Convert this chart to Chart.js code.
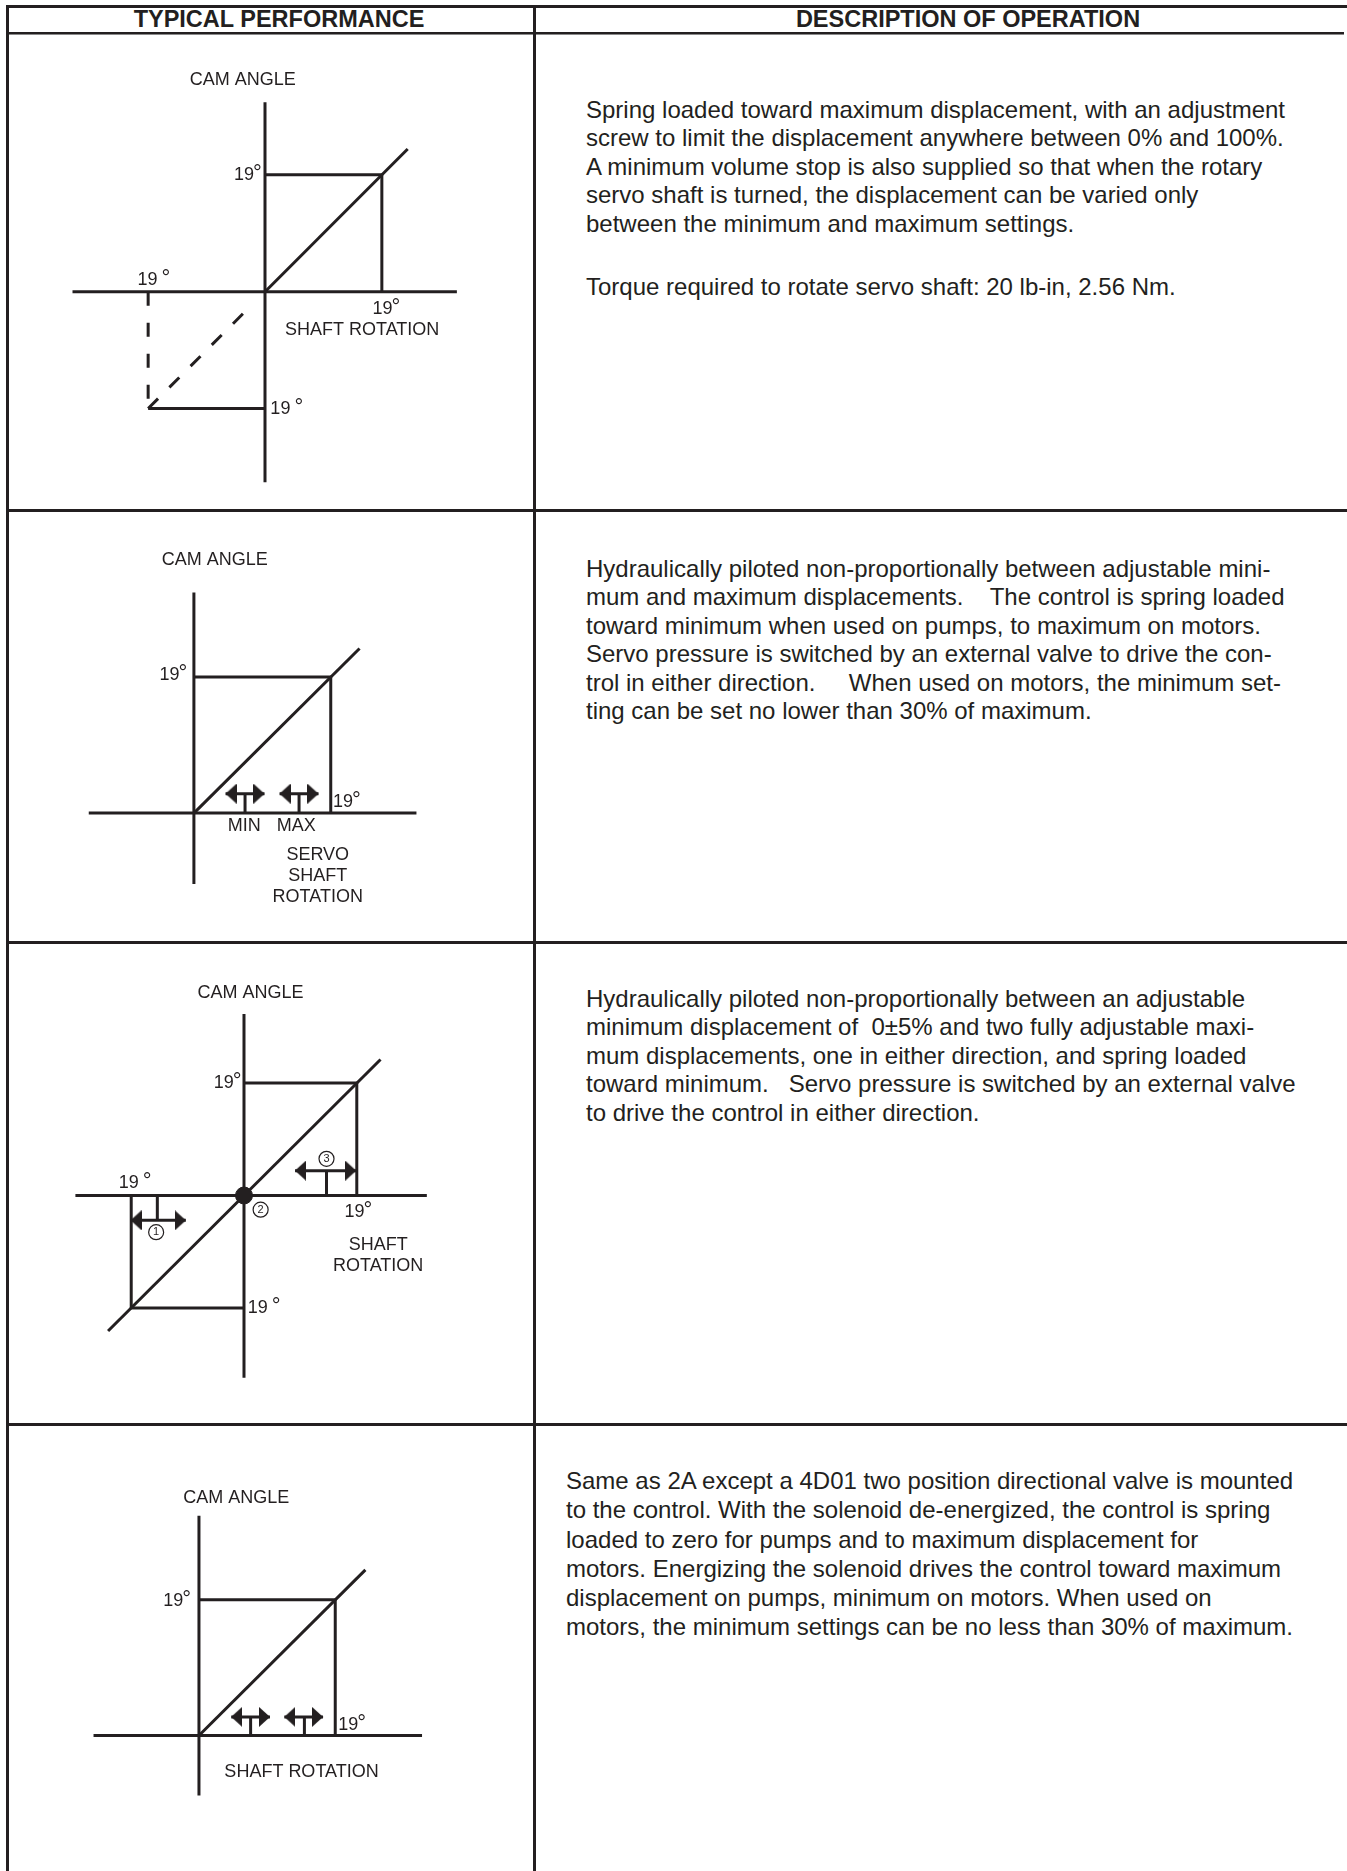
<!DOCTYPE html>
<html>
<head>
<meta charset="utf-8">
<title>Typical performance / description of operation</title>
<script src="https://cdn.jsdelivr.net/npm/chart.js@4.4.1/dist/chart.umd.min.js"></script>
<style>
  html, body { margin: 0; padding: 0; background: #fff; }
  body {
    position: relative; width: 1347px; height: 1871px; overflow: hidden;
    font-family: "Liberation Sans", Arial, Helvetica, sans-serif; color: #231f20;
  }
  .rule { position: absolute; background: #231f20; }
  .head { position: absolute; top: 5px; width: 420px; text-align: center; font-weight: bold;
          font-size: 23.5px; line-height: 28px; white-space: nowrap; }
  .desc { position: absolute; font-size: 24px; line-height: 28.4px; white-space: pre; }
  canvas { position: absolute; }
</style>
</head>
<body>
<!-- table frame -->
<div class="rule" style="left:6px;top:5px;width:1341px;height:3px"></div>
<div class="rule" style="left:6px;top:32px;width:1338px;height:2px"></div>
<div class="rule" style="left:6px;top:34px;width:1338px;height:1px;background:#8a8a8a"></div>
<div class="rule" style="left:6px;top:509px;width:1341px;height:3px"></div>
<div class="rule" style="left:6px;top:941px;width:1341px;height:3px"></div>
<div class="rule" style="left:6px;top:1423px;width:1341px;height:3px"></div>
<div class="rule" style="left:6px;top:5px;width:3px;height:1866px"></div>
<div class="rule" style="left:533px;top:5px;width:3px;height:1866px"></div>

<div class="head" style="left:69px">TYPICAL PERFORMANCE</div>
<div class="head" style="left:758px">DESCRIPTION OF OPERATION</div>

<div class="desc" style="left:586px;top:96px">Spring loaded toward maximum displacement, with an adjustment
screw to limit the displacement anywhere between 0% and 100%.
A minimum volume stop is also supplied so that when the rotary
servo shaft is turned, the displacement can be varied only
between the minimum and maximum settings.</div>
<div class="desc" style="left:586px;top:273px">Torque required to rotate servo shaft: 20 lb-in, 2.56 Nm.</div>

<div class="desc" style="left:586px;top:555px">Hydraulically piloted non-proportionally between adjustable mini-
mum and maximum displacements.    The control is spring loaded
toward minimum when used on pumps, to maximum on motors.
Servo pressure is switched by an external valve to drive the con-
trol in either direction.     When used on motors, the minimum set-
ting can be set no lower than 30% of maximum.</div>

<div class="desc" style="left:586px;top:985px">Hydraulically piloted non-proportionally between an adjustable
minimum displacement of  0±5% and two fully adjustable maxi-
mum displacements, one in either direction, and spring loaded
toward minimum.   Servo pressure is switched by an external valve
to drive the control in either direction.</div>

<div class="desc" style="left:566px;top:1466px;line-height:29.3px">Same as 2A except a 4D01 two position directional valve is mounted
to the control. With the solenoid de-energized, the control is spring
loaded to zero for pumps and to maximum displacement for
motors. Energizing the solenoid drives the control toward maximum
displacement on pumps, minimum on motors. When used on
motors, the minimum settings can be no less than 30% of maximum.</div>

<canvas id="perf1"></canvas>
<canvas id="perf2"></canvas>
<canvas id="perf3"></canvas>
<canvas id="perf4"></canvas>

<script>
const INK = "#231f20";
const FONT = '"Liberation Sans", Arial, Helvetica, sans-serif';

// all values in degrees: shaft rotation (x) vs cam angle (y)

// 1 - rotary servo, spring loaded to max, adjustable stops
const d1ShaftAxis = [[-31.3, 0], [31.2, 0]];
const d1CamAxis = [[0, 30.8], [0, -31]];
const d1Limit = [[0, 19], [19, 19], [19, 0]];
const d1Curve = [[0, 0], [23.2, 23.2]];
const d1NegLimit = [[-19, -19], [0, -19]];
const d1NegSide = [[-19, 0], [-19, -19]];
const d1NegCurve = [[-19, -19], [-1.8, -1.8]];

// 2 - hydraulic, two position, MIN / MAX adjusters
const d2ShaftAxis = [[-14.6, 0], [30.9, 0]];
const d2CamAxis = [[0, 30.8], [0, -9.9]];
const d2Limit = [[0, 19], [19, 19], [19, 0]];
const d2Curve = [[0, 0], [23, 23]];
const d2Stops = [
  { x0: 4.4, x1: 9.8, stem: 7.1, y: 2.7 },
  { x0: 11.9, x1: 17.3, stem: 14.6, y: 2.7 },
];

// 3 - hydraulic, three position, over center
const d3ShaftAxis = [[-28.4, 0], [30.8, 0]];
const d3CamAxis = [[0, 30.7], [0, -30.8]];
const d3Limit = [[0, 19], [19, 19], [19, 0]];
const d3NegLimit = [[0, -19], [-19, -19], [-19, 0]];
const d3Curve = [[-22.9, -22.9], [23, 23]];
const d3Stops = [
  { x0: -19.1, x1: -9.8, stem: -14.6, y: -4.2 },
  { x0: 8.6, x1: 18.9, stem: 13.9, y: 4.2 },
];
const d3Marks = [[-14.8, -6.2, "1"], [2.8, -2.4, "2"], [13.9, 6.2, "3"]];

// 4 - solenoid two position (same as 2A)
const d4ShaftAxis = [[-14.7, 0], [31.1, 0]];
const d4CamAxis = [[0, 30.8], [0, -8.4]];
const d4Limit = [[0, 19], [19, 19], [19, 0]];
const d4Curve = [[0, 0], [23.2, 23.2]];
const d4Stops = [
  { x0: 4.5, x1: 9.9, stem: 7.2, y: 2.6 },
  { x0: 11.9, x1: 17.3, stem: 14.7, y: 2.6 },
];

// text set on the diagrams
const d1Text = [
  { text: "CAM ANGLE", x: -3.6, y: 34.4 },
  { text: "19", x: -3.4, y: 19, deg: 1 },
  { text: "19", x: -19.1, y: 1.9, deg: 2 },
  { text: "19", x: 19.1, y: -2.8, deg: 1 },
  { text: "SHAFT ROTATION", x: 15.8, y: -6.2 },
  { text: "19", x: 2.5, y: -19, deg: 2 },
];
const d2Text = [
  { text: "CAM ANGLE", x: 2.9, y: 35.4 },
  { text: "19", x: -3.4, y: 19.3, deg: 1 },
  { text: "19", x: 20.7, y: 1.6, deg: 1 },
  { text: "MIN", x: 7.0, y: -1.8 },
  { text: "MAX", x: 14.2, y: -1.8 },
  { text: "SERVO", x: 17.2, y: -5.8 },
  { text: "SHAFT", x: 17.2, y: -8.8 },
  { text: "ROTATION", x: 17.2, y: -11.8 },
];
const d3Text = [
  { text: "CAM ANGLE", x: 1.1, y: 34.3 },
  { text: "19", x: -3.4, y: 19, deg: 1 },
  { text: "19", x: -19.4, y: 2.1, deg: 2 },
  { text: "19", x: 18.6, y: -2.8, deg: 1 },
  { text: "19", x: 2.3, y: -19, deg: 2 },
  { text: "SHAFT", x: 22.6, y: -8.4 },
  { text: "ROTATION", x: 22.6, y: -12.0 },
];
const d4Text = [
  { text: "CAM ANGLE", x: 5.2, y: 33.3 },
  { text: "19", x: -3.6, y: 18.9, deg: 1 },
  { text: "19", x: 20.8, y: 1.4, deg: 1 },
  { text: "SHAFT ROTATION", x: 14.3, y: -5.1 },
];

// where each diagram sits on the page: canvas box, origin pixel, px per degree
const frames = {
  perf1: { left: 9, top: 36, width: 523, height: 472, ox: 265, oy: 291.7, k: 6.15 },
  perf2: { left: 9, top: 513, width: 523, height: 427, ox: 191.8, oy: 816, k: 7.4 },
  perf3: { left: 9, top: 945, width: 523, height: 477, ox: 243, oy: 1196, k: 6.16 },
  perf4: { left: 9, top: 1427, width: 523, height: 444, ox: 197, oy: 1738.3, k: 7.37 },
};

function arrowHead() {
  const len = 11, tall = 20;
  const c = document.createElement("canvas");
  c.width = len * 2;
  c.height = tall;
  const g = c.getContext("2d");
  g.fillStyle = INK;
  g.beginPath();
  g.moveTo(0, 0);
  g.lineTo(len, tall / 2);
  g.lineTo(0, tall);
  g.closePath();
  g.fill();
  return c;
}
const HEAD = arrowHead();

const toXY = (pts) => pts.map(([x, y]) => ({ x, y }));

function line(pts, extra) {
  return Object.assign({
    data: toXY(pts),
    showLine: true,
    borderColor: INK,
    borderWidth: 3,
    pointRadius: 0,
    tension: 0,
    fill: false,
    clip: false,
  }, extra);
}

function adjusters(stops) {
  const sets = [];
  const tips = [];
  const rot = [];
  stops.forEach((s) => {
    sets.push(line([[s.x0, s.y], [s.x1, s.y]]));
    sets.push(line([[s.stem, 0], [s.stem, s.y]]));
    tips.push([s.x0, s.y], [s.x1, s.y]);
    rot.push(180, 0);
  });
  sets.unshift({
    data: toXY(tips),
    showLine: false,
    pointStyle: HEAD,
    pointRadius: 6,
    pointRotation: rot,
    clip: false,
  });
  return sets;
}

const diagramText = {
  id: "diagramText",
  afterDatasetsDraw(chart, args, opts) {
    const { ctx } = chart;
    const sx = chart.scales.x, sy = chart.scales.y;
    ctx.save();
    ctx.fillStyle = INK;
    (opts.items || []).forEach((t) => {
      const px = sx.getPixelForValue(t.x);
      const py = sy.getPixelForValue(t.y);
      ctx.font = (t.size || 18) + "px " + FONT;
      ctx.textAlign = "center";
      ctx.textBaseline = "middle";
      ctx.fillText(t.text, px, py);
      if (t.deg) {
        const w = ctx.measureText(t.text).width;
        ctx.font = "22px " + FONT;
        ctx.textAlign = "left";
        ctx.textBaseline = "alphabetic";
        ctx.fillText("°", px + w / 2 + (t.deg === 2 ? 4 : -1), py + 5);
      }
    });
    ctx.restore();
  },
};

function draw(id, datasets, items) {
  const f = frames[id];
  const cv = document.getElementById(id);
  cv.width = f.width;
  cv.height = f.height;
  cv.style.left = f.left + "px";
  cv.style.top = f.top + "px";
  cv.style.width = f.width + "px";
  cv.style.height = f.height + "px";
  new Chart(cv, {
    type: "scatter",
    data: { datasets },
    options: {
      responsive: false,
      animation: false,
      events: [],
      layout: { padding: 0 },
      scales: {
        x: { type: "linear", display: false, min: -(f.ox - f.left) / f.k, max: (f.left + f.width - f.ox) / f.k },
        y: { type: "linear", display: false, min: -(f.top + f.height - f.oy) / f.k, max: (f.oy - f.top) / f.k },
      },
      plugins: {
        legend: { display: false },
        tooltip: { enabled: false },
        diagramText: { items },
      },
    },
    plugins: [diagramText],
  });
}

draw("perf1", [
  line(d1ShaftAxis),
  line(d1CamAxis),
  line(d1Limit),
  line(d1Curve),
  line(d1NegLimit),
  line(d1NegSide, { borderDash: [14, 17] }),
  line(d1NegCurve, { borderDash: [14, 16], borderDashOffset: 0 }),
], d1Text);

draw("perf2", [
  ...adjusters(d2Stops),
  line(d2ShaftAxis),
  line(d2CamAxis),
  line(d2Limit),
  line(d2Curve),
], d2Text);

draw("perf3", [
  {
    data: toXY([[0, 0]]),
    showLine: false,
    pointRadius: 8.5,
    pointBackgroundColor: INK,
    pointBorderColor: INK,
    clip: false,
  },
  {
    data: toXY(d3Marks.map((m) => [m[0], m[1]])),
    showLine: false,
    pointRadius: 7.5,
    pointBackgroundColor: "#fff",
    pointBorderColor: INK,
    pointBorderWidth: 1.2,
    clip: false,
  },
  ...adjusters(d3Stops),
  line(d3ShaftAxis),
  line(d3CamAxis),
  line(d3Limit),
  line(d3NegLimit),
  line(d3Curve),
], d3Text.concat(d3Marks.map((m) => ({ text: m[2], x: m[0], y: m[1], size: 11 }))));

draw("perf4", [
  ...adjusters(d4Stops),
  line(d4ShaftAxis),
  line(d4CamAxis),
  line(d4Limit),
  line(d4Curve),
], d4Text);
</script>
</body>
</html>
